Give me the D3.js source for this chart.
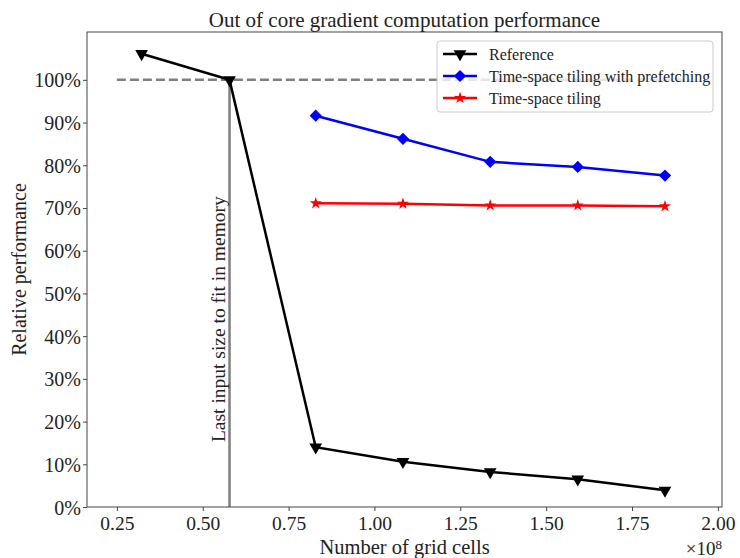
<!DOCTYPE html>
<html>
<head>
<meta charset="utf-8">
<script src="https://cdn.jsdelivr.net/npm/d3@7"></script>
<style>
  body { margin: 0; background: #fff; }
  text { font-family: "Liberation Serif", "DejaVu Serif", serif; fill: #222; }
</style>
</head>
<body>
<div id="chart"></div>
<script>
// data (x in units of 1e8 grid cells, y relative performance)
const refX = [0.322, 0.578, 0.829, 1.083, 1.337, 1.592, 1.846]
const refY = [1.061, 1.0, 0.140, 0.106, 0.082, 0.065, 0.039]
const prefX = [0.829, 1.083, 1.337, 1.592, 1.846]
const prefY = [0.916, 0.862, 0.808, 0.796, 0.776]
const tileX = [0.829, 1.083, 1.337, 1.592, 1.846]
const tileY = [0.711, 0.710, 0.706, 0.706, 0.704]
const xTicks = [0.25, 0.5, 0.75, 1.0, 1.25, 1.5, 1.75, 2.0]
const yTicks = [0, 0.1, 0.2, 0.3, 0.4, 0.5, 0.6, 0.7, 0.8, 0.9, 1.0]
const memLimitX = 0.578
const baselineStart = 0.25
const baselineEnd = 1.92

const series = [
  { name: "Reference", xs: refX, ys: refY, color: "#000", marker: "tri" },
  { name: "Time-space tiling with prefetching", xs: prefX, ys: prefY, color: "#0000ff", marker: "diamond" },
  { name: "Time-space tiling", xs: tileX, ys: tileY, color: "#ff0000", marker: "star" }
]

const W = 740, H = 558
const MARGIN = { LEFT: 87, RIGHT: 18, TOP: 32, BOTTOM: 51 }
const WIDTH = W - MARGIN.LEFT - MARGIN.RIGHT
const HEIGHT = H - MARGIN.TOP - MARGIN.BOTTOM

const svg = d3.select("#chart").append("svg")
    .attr("width", W)
    .attr("height", H)
const g = svg.append("g")
    .attr("transform", `translate(${MARGIN.LEFT}, ${MARGIN.TOP})`)

const x = d3.scaleLinear().domain([0.163, 2.012]).range([0, WIDTH])
const y = d3.scaleLinear().domain([0, 1.112]).range([HEIGHT, 0])

// axes
const xAxis = d3.axisBottom(x).tickValues(xTicks).tickFormat(d3.format(".2f")).tickSize(4)
const yAxis = d3.axisLeft(y).tickValues(yTicks).tickFormat(d => Math.round(d * 100) + "%").tickSize(4)

const gx = g.append("g").attr("transform", `translate(0, ${HEIGHT})`).call(xAxis)
const gy = g.append("g").call(yAxis)
gx.select(".domain").remove()
gy.select(".domain").remove()
gx.selectAll("text").attr("font-size", "19.5px").attr("dy", "0.8em").style("fill", "#222")
gy.selectAll("text").attr("font-size", "20px").attr("dy", "0.35em").attr("x", -6).style("fill", "#222")
g.selectAll(".tick line").attr("stroke", "#444")

// reference lines
g.append("line")
    .attr("x1", x(baselineStart)).attr("x2", x(baselineEnd))
    .attr("y1", y(1)).attr("y2", y(1))
    .attr("stroke", "#7f7f7f").attr("stroke-width", 2.5)
    .attr("stroke-dasharray", "9,4")
g.append("line")
    .attr("x1", x(memLimitX)).attr("x2", x(memLimitX))
    .attr("y1", y(0)).attr("y2", y(1))
    .attr("stroke", "#7f7f7f").attr("stroke-width", 2.5)
g.append("text")
    .attr("transform", `translate(${x(memLimitX) - 5}, ${y(0.152)}) rotate(-90)`)
    .attr("font-size", "19.5px")
    .text("Last input size to fit in memory")

// markers
const star = d3.symbol().type(d3.symbolStar).size(45)
const diamond = d3.symbol().type(d3.symbolSquare).size(75)
const tri = d3.symbol().type(d3.symbolTriangle).size(70)
function marker(sel, type, color) {
  if (type === "diamond") sel.append("path").attr("d", diamond).attr("transform", "rotate(45)").attr("fill", color)
  else if (type === "tri") sel.append("path").attr("d", tri).attr("transform", "rotate(180)").attr("fill", color)
  else sel.append("path").attr("d", star).attr("fill", color)
}

const line = d3.line().x(d => x(d[0])).y(d => y(d[1]))
series.forEach(s => {
  const pts = s.xs.map((v, i) => [v, s.ys[i]])
  g.append("path").datum(pts)
    .attr("d", line)
    .attr("fill", "none")
    .attr("stroke", s.color)
    .attr("stroke-width", 2.5)
  g.selectAll(null).data(pts).enter().append("g")
    .attr("transform", d => `translate(${x(d[0])}, ${y(d[1])})`)
    .each(function () { marker(d3.select(this), s.marker, s.color) })
})

// frame
g.append("rect")
    .attr("width", WIDTH).attr("height", HEIGHT)
    .attr("fill", "none").attr("stroke", "#444").attr("stroke-width", 1)

// legend
const leg = g.append("g").attr("transform", `translate(${437 - MARGIN.LEFT}, ${41 - MARGIN.TOP})`)
leg.append("rect")
    .attr("width", 276).attr("height", 71).attr("rx", 3)
    .attr("fill", "#fff").attr("fill-opacity", 0.8)
    .attr("stroke", "#ccc")
series.forEach((s, i) => {
  const row = leg.append("g").attr("transform", `translate(0, ${13 + i * 22})`)
  row.append("line").attr("x1", 6).attr("x2", 40)
      .attr("stroke", s.color).attr("stroke-width", 2.5)
  const m = row.append("g").attr("transform", "translate(23, 0)")
  marker(m, s.marker, s.color)
  row.append("text").attr("x", 52).attr("dy", "0.35em")
      .attr("font-size", "16px").text(s.name)
})

// labels
svg.append("text")
    .attr("x", MARGIN.LEFT + WIDTH / 2).attr("y", 27)
    .attr("text-anchor", "middle").attr("font-size", "21px")
    .text("Out of core gradient computation performance")
svg.append("text")
    .attr("x", MARGIN.LEFT + WIDTH / 2).attr("y", 554)
    .attr("text-anchor", "middle").attr("font-size", "20.5px")
    .text("Number of grid cells")
svg.append("text")
    .attr("transform", `translate(26, ${MARGIN.TOP + HEIGHT / 2}) rotate(-90)`)
    .attr("text-anchor", "middle").attr("font-size", "20px")
    .text("Relative performance")
const sci = svg.append("text")
    .attr("x", 722).attr("y", 555)
    .attr("text-anchor", "end").attr("font-size", "19px")
sci.append("tspan").text("×10")
sci.append("tspan").attr("font-size", "13px").attr("dy", "-6").text("8")
</script>
</body>
</html>
